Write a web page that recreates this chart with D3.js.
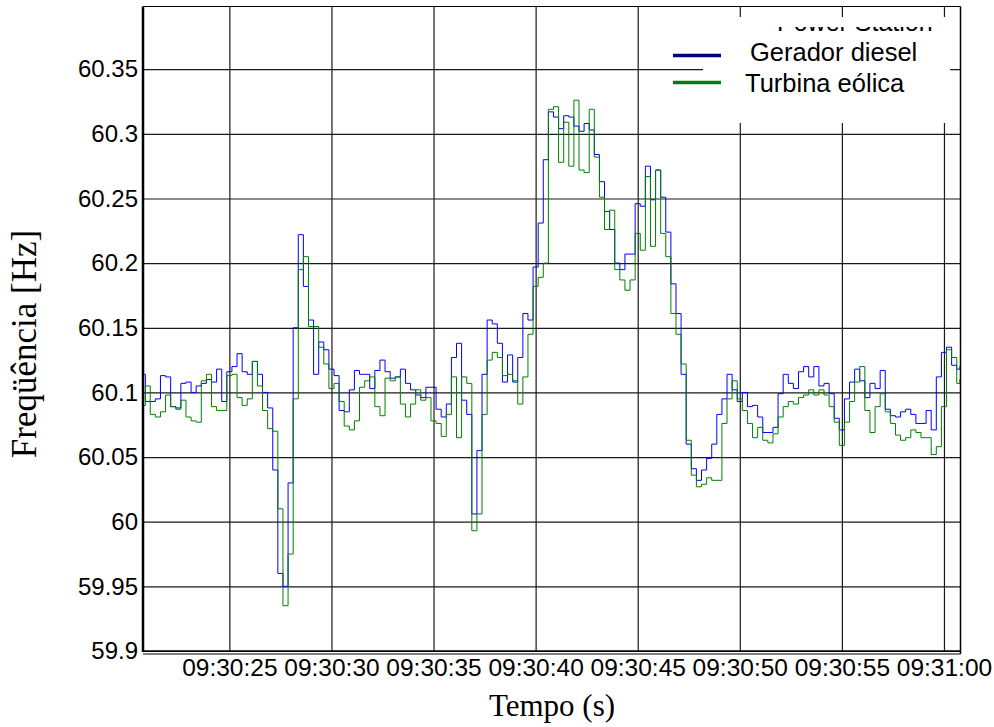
<!DOCTYPE html>
<html><head><meta charset="utf-8">
<script src="https://cdn.jsdelivr.net/npm/d3@7"></script>
<style>body{margin:0;background:#fff}svg{display:block}</style>
</head><body><svg id="c" width="994" height="727"></svg>
<script>
const seriesNames = ["Gerador diesel", "Turbina eólica"];
// time in seconds after 09:30:00
const times = [20.77,
21,21.25,21.5,21.75,22,22.25,22.5,22.75,
23,23.25,23.5,23.75,24,24.25,24.5,24.75,
25,25.25,25.5,25.75,26,26.25,26.5,26.75,
27,27.25,27.5,27.75,28,28.25,28.5,28.75,
29,29.25,29.5,29.75,30,30.25,30.5,30.75,
31,31.25,31.5,31.75,32,32.25,32.5,32.75,
33,33.25,33.5,33.75,34,34.25,34.5,34.75,
35,35.25,35.5,35.75,36,36.25,36.5,36.75,
37,37.25,37.5,37.75,38,38.25,38.5,38.75,
39,39.25,39.5,39.75,40,40.25,40.5,40.75,
41,41.25,41.5,41.75,42,42.25,42.5,42.75,
43,43.25,43.5,43.75,44,44.25,44.5,44.75,
45,45.25,45.5,45.75,46,46.25,46.5,46.75,
47,47.25,47.5,47.75,48,48.25,48.5,48.75,
49,49.25,49.5,49.75,50,50.25,50.5,50.75,
51,51.25,51.5,51.75,52,52.25,52.5,52.75,
53,53.25,53.5,53.75,54,54.25,54.5,54.75,
55,55.25,55.5,55.75,56,56.25,56.5,56.75,
57,57.25,57.5,57.75,58,58.25,58.5,58.75,
59,59.25,59.5,59.75,60,60.25,60.5,60.75,
60.81];
const dieselHz = [60.114,
60.093,60.093,60.095,60.113,60.112,60.089,60.088,60.107,
60.108,60.100,60.105,60.107,60.110,60.108,60.118,60.093,
60.116,60.120,60.130,60.116,60.114,60.124,60.114,60.100,
60.088,60.040,59.960,59.950,60.030,60.150,60.222,60.182,
60.156,60.114,60.139,60.133,60.118,60.113,60.086,60.085,
60.102,60.117,60.114,60.114,60.103,60.117,60.125,60.116,
60.111,60.112,60.118,60.107,60.102,60.098,60.096,60.104,
60.104,60.087,60.081,60.091,60.127,60.138,60.094,60.083,
60.006,60.055,60.114,60.156,60.153,60.138,60.108,60.129,
60.108,60.127,60.161,60.156,60.197,60.231,60.280,60.317,
60.313,60.304,60.314,60.313,60.306,60.302,60.308,60.303,
60.284,60.263,60.240,60.226,60.200,60.195,60.207,60.207,
60.246,60.244,60.275,60.249,60.272,60.251,60.224,60.184,
60.161,60.114,60.060,60.041,60.032,60.040,60.049,60.060,
60.083,60.095,60.114,60.102,60.093,60.100,60.089,60.090,
60.081,60.069,60.069,60.073,60.099,60.114,60.107,60.103,
60.116,60.120,60.112,60.120,60.105,60.107,60.099,60.080,
60.071,60.095,60.108,60.118,60.109,60.096,60.107,60.103,
60.117,60.087,60.082,60.081,60.085,60.087,60.083,60.076,
60.076,60.086,60.071,60.112,60.131,60.135,60.121,60.118,
60.120];
const windHz = [60.090,
60.105,60.083,60.081,60.085,60.098,60.089,60.087,60.094,
60.081,60.078,60.077,60.109,60.114,60.089,60.086,60.086,
60.113,60.114,60.096,60.090,60.095,60.124,60.105,60.086,
60.072,60.070,60.010,59.935,59.975,60.095,60.195,60.205,
60.151,60.151,60.135,60.122,60.103,60.107,60.093,60.074,
60.071,60.078,60.104,60.109,60.112,60.089,60.082,60.111,
60.109,60.112,60.091,60.081,60.091,60.102,60.094,60.096,
60.078,60.076,60.066,60.083,60.112,60.065,60.112,60.107,
59.993,60.006,60.083,60.125,60.131,60.127,60.113,60.114,
60.109,60.091,60.112,60.145,60.182,60.189,60.200,60.319,
60.321,60.278,60.309,60.275,60.326,60.272,60.270,60.319,
60.282,60.251,60.226,60.241,60.195,60.187,60.179,60.187,
60.223,60.210,60.267,60.213,60.272,60.223,60.205,60.161,
60.145,60.122,60.063,60.036,60.027,60.029,60.034,60.032,
60.032,60.076,60.095,60.109,60.095,60.086,60.076,60.065,
60.073,60.063,60.061,60.068,60.081,60.089,60.093,60.091,
60.096,60.098,60.102,60.098,60.102,60.098,60.089,60.077,
60.059,60.077,60.093,60.108,60.120,60.086,60.069,60.089,
60.099,60.085,60.076,60.067,60.063,60.065,60.071,60.069,
60.065,60.065,60.052,60.058,60.089,60.133,60.127,60.107,
60.110];
const xTickValues = [25, 30, 35, 40, 45, 50, 55, 60];
const xTickLabels = ["09:30:25","09:30:30","09:30:35","09:30:40","09:30:45","09:30:50","09:30:55","09:31:00"];
const yTickValues = [59.9, 59.95, 60, 60.05, 60.1, 60.15, 60.2, 60.25, 60.3, 60.35];
const yTickLabels = ["59.9","59.95","60","60.05","60.1","60.15","60.2","60.25","60.3","60.35"];
const xDomain = [20.77, 60.81];
const yDomain = [59.9, 60.3985];

const svg = d3.select("#c");
const L = 143, R = 960.5, T = 6.5, B = 651;
const x = d3.scaleLinear().domain(xDomain).range([L, R]);
const y = d3.scaleLinear().domain(yDomain).range([B, T]);

// grid
const gx = svg.append("g").attr("transform", `translate(0,${B})`)
  .call(d3.axisBottom(x).tickValues(xTickValues).tickFormat((d, i) => xTickLabels[i])
    .tickSize(-(B - T)).tickPadding(8));
gx.select(".domain").remove();
gx.selectAll("line").attr("stroke", "#1a1a1a").attr("stroke-width", 1.2);
gx.selectAll("text").attr("font-family", "'Liberation Sans', Arial, sans-serif")
  .attr("font-size", 24.5).attr("fill", "#000").attr("dy", "0.71em");

const gy = svg.append("g").attr("transform", `translate(${L},0)`)
  .call(d3.axisLeft(y).tickValues(yTickValues).tickFormat((d, i) => yTickLabels[i])
    .tickSize(-(R - L)).tickPadding(5));
gy.select(".domain").remove();
gy.selectAll("line").attr("stroke", "#1a1a1a").attr("stroke-width", 1.2);
gy.selectAll("text").attr("font-family", "'Liberation Sans', Arial, sans-serif")
  .attr("font-size", 24).attr("fill", "#000");

// data lines
const pts = (vals) => vals.map((v, i) => [times[i], v]);
const line = d3.line().x(d => x(d[0])).y(d => y(d[1])).curve(d3.curveStep);
svg.append("path").attr("d", line(pts(dieselHz))).attr("fill", "none")
  .attr("stroke", "#0000ff").attr("stroke-width", 1);
svg.append("path").attr("d", line(pts(windHz))).attr("fill", "none")
  .attr("stroke", "#008000").attr("stroke-width", 1);

// legend
svg.append("rect").attr("x", 703).attr("y", 17).attr("width", 247).attr("height", 106).attr("fill", "#fff");
const clip = svg.append("defs").append("clipPath").attr("id", "cl");
clip.append("rect").attr("x", 760).attr("y", 27).attr("width", 180).attr("height", 4);
svg.append("text").attr("x", 777).attr("y", 31).attr("clip-path", "url(#cl)")
  .attr("font-family", "'Liberation Sans', Arial, sans-serif").attr("font-size", 25)
  .text("Power Station");
const legColors = ["#000080", "#008000"];
const legY = [55.5, 82.5];
const legTextX = [750, 745];
const legTextY = [61, 92];
seriesNames.forEach((n, i) => {
  svg.append("line").attr("x1", 673).attr("x2", 721).attr("y1", legY[i]).attr("y2", legY[i])
    .attr("stroke", legColors[i]).attr("stroke-width", 3.5);
  svg.append("text").attr("x", legTextX[i]).attr("y", legTextY[i])
    .attr("font-family", "'Liberation Sans', Arial, sans-serif").attr("font-size", 25.5)
    .attr("fill", "#000").text(n);
});

// frame
svg.append("line").attr("x1", L).attr("x2", L).attr("y1", T).attr("y2", B + 1).attr("stroke", "#000").attr("stroke-width", 2.5);
svg.append("line").attr("x1", L).attr("x2", R).attr("y1", B).attr("y2", B).attr("stroke", "#000").attr("stroke-width", 1.5);
svg.append("line").attr("x1", L).attr("x2", R).attr("y1", B + 3).attr("y2", B + 3).attr("stroke", "#000").attr("stroke-width", 1);
svg.append("line").attr("x1", L).attr("x2", R).attr("y1", T).attr("y2", T).attr("stroke", "#000").attr("stroke-width", 1.2);
svg.append("line").attr("x1", R).attr("x2", R).attr("y1", T).attr("y2", B + 3).attr("stroke", "#000").attr("stroke-width", 1.5);

// titles
svg.append("text").attr("x", 552).attr("y", 716).attr("text-anchor", "middle")
  .attr("font-family", "'Liberation Serif', 'Times New Roman', serif").attr("font-size", 31)
  .text("Tempo (s)");
svg.append("text").attr("transform", "translate(36,344) rotate(-90)").attr("text-anchor", "middle")
  .attr("font-family", "'Liberation Serif', 'Times New Roman', serif").attr("font-size", 35)
  .text("Freqüência [Hz]");
</script></body></html>
